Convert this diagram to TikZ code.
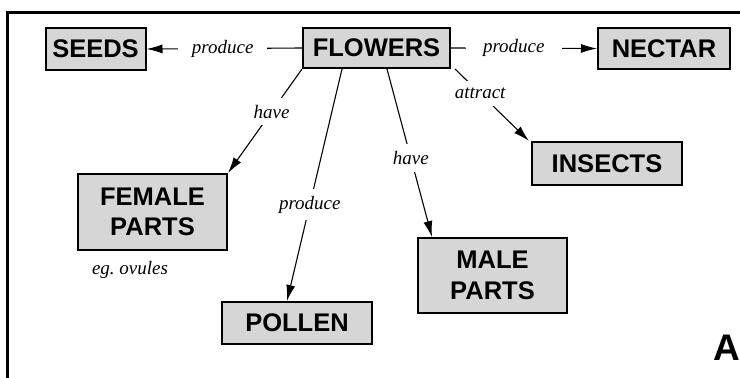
\documentclass[tikz,border=0pt]{standalone}
\usepackage{fontspec}
\setmainfont{Liberation Serif}
\setsansfont{Liberation Sans}
\usetikzlibrary{arrows.meta}

\begin{document}
\begin{tikzpicture}[x=1pt, y=-1pt,
    concept/.style={draw, line width=2pt, fill=black!16, align=center,
      inner sep=0pt, font=\sffamily\bfseries\fontsize{25.5}{30}\selectfont},
    rel/.style={line width=1.1pt, -{Latex[length=16pt,width=9pt]}},
    lbl/.style={fill=white, inner xsep=11pt, inner ysep=7pt,
      font=\itshape\fontsize{19}{21}\selectfont}]
    \useasboundingbox (0,0) rectangle (740,378);
    \draw[line width=3pt] (7,380) -- (7,12) -- (742,12);

    \node[concept, minimum width=147pt, minimum height=40pt] (flowers) at (376.5,48) {FLOWERS};
    \node[concept, minimum width=100pt, minimum height=42pt] (seeds)   at (95.5,49)  {SEEDS};
    \node[concept, minimum width=132pt, minimum height=41pt] (nectar)  at (664,48.5) {NECTAR};
    \node[concept, minimum width=150pt, minimum height=43pt] (insects) at (607,163.5) {INSECTS};
    \node[concept, minimum width=149pt, minimum height=76pt] (female)  at (152.5,212) {FEMALE\\PARTS};
    \node[concept, minimum width=150pt, minimum height=42pt] (pollen)  at (297,323)  {POLLEN};
    \node[concept, minimum width=149pt, minimum height=75pt,
      font=\sffamily\bfseries\fontsize{25.5}{31}\selectfont] (male) at (492.5,275.5) {MALE\\PARTS};

    \node[lbl, fill=none, inner sep=0pt] (ovules) at (130,270) {eg.\ ovules};
    \node[font=\sffamily\bfseries\fontsize{37}{40}\selectfont, inner sep=0pt] (tag) at (727,348) {A};

    \draw[rel] (flowers.west) -- node[lbl, pos=0.51, inner xsep=14pt] {produce} (seeds.east);
    \draw[rel] (flowers.east) -- node[lbl, pos=0.43, inner xsep=17pt] {produce} (nectar.west);
    \draw[rel] (flowers.south west) -- node[lbl, pos=0.41] {have} (female.north east);
    \draw[rel] ([xshift=40pt]flowers.south west) -- node[lbl, pos=0.585] {produce} ([xshift=66pt]pollen.north west);
    \draw[rel] ([xshift=85pt]flowers.south west) -- node[lbl, pos=0.53] {have} ([xshift=15pt]male.north west);
    \draw[rel] ([xshift=4pt]flowers.south east) -- node[lbl, pos=0.34] {attract} ([xshift=-2pt]insects.north west);
\end{tikzpicture}
\end{document}
